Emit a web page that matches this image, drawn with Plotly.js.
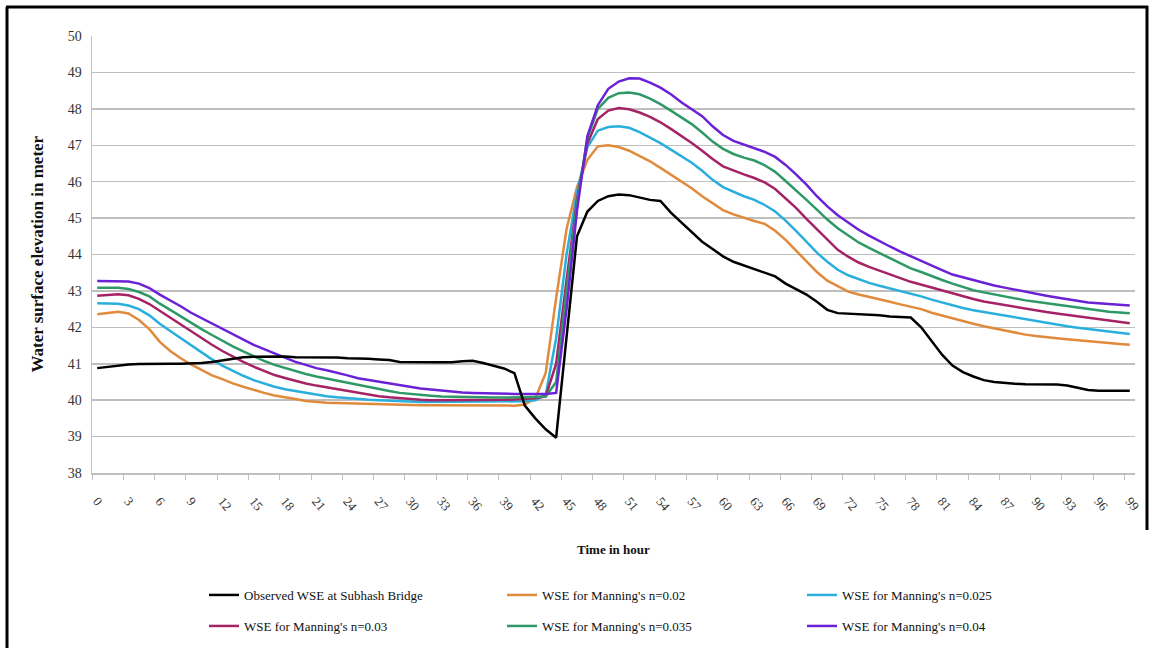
<!DOCTYPE html>
<html>
<head>
<meta charset="utf-8">
<script src="https://cdn.plot.ly/plotly-3.0.1.min.js"></script>
<style>
html,body{margin:0;padding:0;background:#fff;}
#chart{width:1153px;height:648px;}
</style>
</head>
<body>
<div id="chart"></div>
<script>
const hours = [0,1,2,3,4,5,6,7,8,9,10,11,12,13,14,15,16,17,18,19,20,21,22,23,24,25,26,27,28,29,30,31,32,33,34,35,36,37,38,39,40,41,42,43,44,45,46,47,48,49,50,51,52,53,54,55,56,57,58,59,60,61,62,63,64,65,66,67,68,69,70,71,72,73,74,75,76,77,78,79,80,81,82,83,84,85,86,87,88,89,90,91,92,93,94,95,96,97,98,99];

const tickHours = [0,3,6,9,12,15,18,21,24,27,30,33,36,39,42,45,48,51,54,57,60,63,66,69,72,75,78,81,84,87,90,93,96,99];
const tickLabels = ["0","3","6","9","12","15","18","21","24","27","30","33","36","39","42","45","48","51","54","57","60","63","66","69","72","75","78","81","84","87","90","93","96","99"];

const xTitle = "Time in hour";
const yTitle = "Water surface elevation in meter";

const observed = [40.88,40.92,40.95,40.98,40.99,41.0,41.0,41.0,41.0,41.0,
  41.02,41.05,41.1,41.15,41.18,41.19,41.2,41.2,41.2,41.18,
  41.18,41.18,41.18,41.17,41.15,41.15,41.14,41.12,41.1,41.05,
  41.04,41.04,41.04,41.04,41.04,41.07,41.08,41.02,40.95,40.87,
  40.74,39.85,39.5,39.2,38.97,41.7,44.5,45.18,45.47,45.6,
  45.65,45.63,45.56,45.5,45.47,45.15,44.88,44.62,44.35,44.15,
  43.95,43.8,43.7,43.62,43.52,43.4,43.2,43.05,42.9,42.7,
  42.48,42.39,42.38,42.37,42.36,42.33,42.3,42.28,42.27,42.0,
  41.62,41.25,40.95,40.77,40.65,40.55,40.5,40.47,40.45,40.44,
  40.44,40.43,40.43,40.4,40.33,40.28,40.26,40.26,40.26,40.26];

const n020 = [42.36,42.4,42.43,42.38,42.2,41.95,41.6,41.35,41.15,40.98,
  40.82,40.68,40.58,40.46,40.37,40.28,40.2,40.13,40.07,40.03,
  39.98,39.95,39.93,39.92,39.91,39.9,39.89,39.88,39.87,39.86,
  39.86,39.86,39.86,39.86,39.85,39.85,39.85,39.85,39.85,39.85,
  39.85,39.88,40.05,40.75,42.8,44.7,45.85,46.6,46.97,47.0,
  46.95,46.85,46.7,46.56,46.38,46.2,46.0,45.82,45.6,45.4,
  45.22,45.1,45.0,44.92,44.84,44.65,44.4,44.1,43.82,43.52,
  43.28,43.12,42.98,42.9,42.84,42.76,42.7,42.63,42.56,42.5,
  42.4,42.32,42.25,42.17,42.1,42.03,41.97,41.9,41.85,41.8,
  41.76,41.72,41.7,41.67,41.65,41.62,41.59,41.57,41.54,41.52];

const n025 = [42.66,42.66,42.65,42.6,42.5,42.33,42.1,41.9,41.7,41.5,
  41.3,41.12,40.95,40.8,40.67,40.55,40.45,40.37,40.3,40.25,
  40.2,40.15,40.11,40.08,40.05,40.03,40.01,40.0,39.98,39.97,
  39.96,39.95,39.95,39.95,39.95,39.95,39.95,39.95,39.95,39.95,
  39.95,39.97,40.0,40.15,41.7,44.0,45.7,46.95,47.4,47.5,
  47.52,47.48,47.36,47.22,47.06,46.88,46.7,46.52,46.3,46.05,
  45.85,45.72,45.6,45.5,45.36,45.18,44.93,44.65,44.35,44.05,
  43.8,43.58,43.43,43.32,43.22,43.14,43.07,43.0,42.92,42.85,
  42.76,42.68,42.6,42.53,42.47,42.42,42.37,42.31,42.27,42.22,
  42.17,42.12,42.07,42.03,41.99,41.95,41.92,41.88,41.85,41.82];

const n030 = [42.87,42.89,42.91,42.88,42.78,42.64,42.45,42.27,42.08,41.88,
  41.7,41.52,41.35,41.19,41.05,40.92,40.8,40.69,40.61,40.53,
  40.46,40.4,40.35,40.3,40.26,40.2,40.15,40.11,40.08,40.05,
  40.03,40.01,40.0,40.0,39.99,39.99,39.99,40.0,40.0,40.01,
  40.02,40.03,40.05,40.1,41.0,43.3,45.5,47.05,47.72,47.95,
  48.02,47.99,47.9,47.78,47.63,47.45,47.26,47.06,46.85,46.62,
  46.42,46.3,46.2,46.1,45.98,45.8,45.55,45.28,44.98,44.7,
  44.4,44.13,43.94,43.78,43.66,43.55,43.44,43.35,43.25,43.17,
  43.08,43.0,42.93,42.84,42.78,42.71,42.66,42.6,42.55,42.5,
  42.46,42.42,42.38,42.34,42.3,42.26,42.22,42.18,42.14,42.11];

const n035 = [43.09,43.09,43.09,43.05,42.97,42.85,42.65,42.48,42.3,42.12,
  41.95,41.79,41.63,41.48,41.34,41.2,41.08,40.97,40.88,40.8,
  40.72,40.65,40.59,40.54,40.48,40.42,40.36,40.3,40.25,40.2,
  40.17,40.14,40.12,40.1,40.09,40.08,40.07,40.07,40.07,40.07,
  40.07,40.08,40.09,40.1,40.5,43.0,45.4,47.2,48.0,48.3,
  48.43,48.45,48.4,48.28,48.13,47.95,47.76,47.58,47.35,47.1,
  46.9,46.76,46.66,46.58,46.45,46.27,46.02,45.77,45.5,45.23,
  44.96,44.72,44.52,44.33,44.18,44.04,43.9,43.76,43.62,43.52,
  43.4,43.3,43.2,43.1,43.02,42.96,42.9,42.84,42.79,42.74,
  42.7,42.66,42.61,42.57,42.53,42.49,42.46,42.43,42.41,42.39];

const n040 = [43.27,43.27,43.27,43.26,43.2,43.08,42.9,42.75,42.58,42.4,
  42.25,42.1,41.95,41.8,41.66,41.52,41.4,41.28,41.15,41.05,
  40.97,40.88,40.82,40.76,40.68,40.6,40.55,40.5,40.45,40.4,
  40.36,40.32,40.29,40.26,40.23,40.21,40.2,40.19,40.18,40.17,
  40.17,40.17,40.17,40.17,40.2,42.5,45.2,47.25,48.1,48.55,
  48.75,48.84,48.83,48.72,48.58,48.4,48.18,48.0,47.8,47.52,
  47.28,47.12,47.02,46.93,46.82,46.68,46.46,46.2,45.92,45.6,
  45.32,45.08,44.88,44.68,44.52,44.36,44.22,44.08,43.95,43.82,
  43.68,43.57,43.45,43.37,43.29,43.21,43.15,43.09,43.03,42.97,
  42.92,42.87,42.82,42.77,42.72,42.68,42.66,42.64,42.62,42.6];

const seriesNames = ["Observed WSE at Subhash Bridge","WSE for Manning's n=0.02","WSE for Manning's n=0.025","WSE for Manning's n=0.03","WSE for Manning's n=0.035","WSE for Manning's n=0.04"];
const seriesData = [observed, n020, n025, n030, n035, n040];
const seriesColors = ["#000000","#E08A3C","#2AAEDC","#A62266","#2E9966","#6B21D6"];
const legendIds = ["legend","legend2","legend3","legend4","legend5","legend6"];

const serif = "Liberation Serif, Times New Roman, serif";

const traces = seriesData.map((d,i) => ({
  x: hours, y: d, type: "scatter", mode: "lines",
  name: seriesNames[i],
  line: {color: seriesColors[i], width: 2.5},
  legend: legendIds[i]
}));
const ordered = traces.slice(1).concat([traces[0]]);

// plot area in pixels
const L = 92, R = 1135, T = 36, B = 473, W = 1153, H = 648;
const px = v => (v - L) / (R - L);
const py = v => (B - v) / (B - T);

// legend entry text starts (pixels) and row centres
const colText = [244, 542, 842];
const rowY = [595, 626];

const layout = {
  width: W, height: H,
  margin: {l: L, r: W - R, t: T, b: H - B, autoexpand: false},
  paper_bgcolor: "#ffffff", plot_bgcolor: "#ffffff",
  showlegend: true,
  xaxis: {
    type: "linear", range: [-0.5, 99.5],
    tickmode: "array", tickvals: tickHours, ticktext: tickLabels,
    tickangle: 50, ticks: "", ticklabelstandoff: 14,
    tickfont: {family: serif, size: 13, color: "#333"},
    showgrid: false, zeroline: false,
    showline: true, linecolor: "#BFBFBF", linewidth: 1.5,
    minor: {tickmode: "linear", tick0: -0.5, dtick: 3, ticks: "outside", ticklen: 5, tickcolor: "#BFBFBF", tickwidth: 1, showgrid: false},
    automargin: false
  },
  yaxis: {
    range: [38, 50], dtick: 1, tick0: 38,
    tickfont: {family: serif, size: 14, color: "#333"},
    showgrid: true, gridcolor: "#BFBFBF", gridwidth: 1.5,
    zeroline: false, showline: true, linecolor: "#BFBFBF", linewidth: 1.5,
    ticks: "outside", ticklen: 6, tickcolor: "rgba(0,0,0,0)",
    automargin: false
  },
  annotations: [
    {text: "<b>" + yTitle + "</b>", xref: "paper", yref: "paper", x: px(37), y: 0.5,
     xanchor: "center", yanchor: "middle", textangle: -90, showarrow: false,
     font: {family: serif, size: 17, color: "#111"}},
    {text: "<b>" + xTitle + "</b>", xref: "paper", yref: "paper", x: 0.5, y: py(549),
     xanchor: "center", yanchor: "middle", showarrow: false,
     font: {family: serif, size: 13, color: "#111"}}
  ],
  shapes: [
    {type: "line", xref: "paper", yref: "paper", x0: px(7), x1: px(7), y0: py(7), y1: py(660), line: {color: "#000", width: 3}},
    {type: "line", xref: "paper", yref: "paper", x0: px(6), x1: px(1148), y0: py(7), y1: py(7), line: {color: "#000", width: 3}},
    {type: "line", xref: "paper", yref: "paper", x0: px(1147), x1: px(1147), y0: py(6), y1: py(530), line: {color: "#000", width: 3}}
  ]
};

legendIds.forEach((id, i) => {
  const col = i % 3, row = Math.floor(i / 3);
  layout[id] = {
    xref: "container", yref: "container",
    x: (colText[col] - 40) / W, y: 1 - rowY[row] / H,
    xanchor: "left", yanchor: "middle",
    orientation: "v",
    font: {family: serif, size: 13, color: "#111"},
    bgcolor: "rgba(0,0,0,0)", borderwidth: 0, itemwidth: 30
  };
});

Plotly.newPlot("chart", ordered, layout, {displayModeBar: false, staticPlot: true});
</script>
</body>
</html>
